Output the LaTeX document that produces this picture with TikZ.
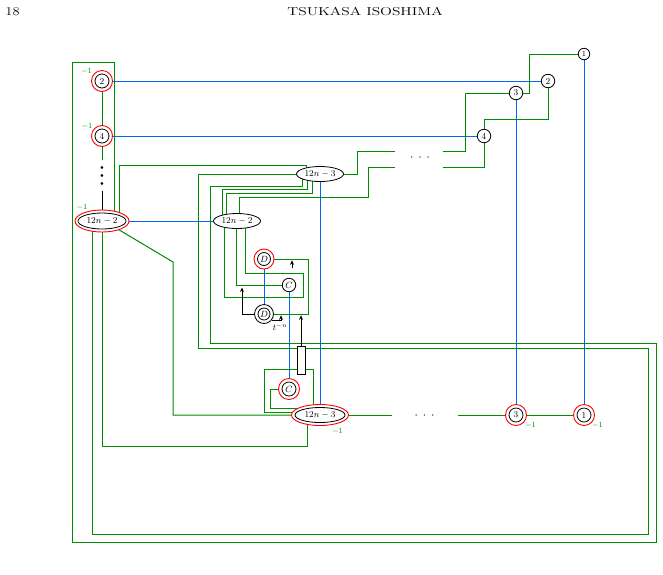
\documentclass[tikz,border=0pt]{standalone}
\usepackage{graphicx}
\usetikzlibrary{backgrounds,calc,arrows.meta,shapes.geometric}
\definecolor{gr}{RGB}{0,140,0}
\definecolor{bl}{RGB}{0,100,255}
\begin{document}
\begin{tikzpicture}[x=1pt,y=-1pt,
  gl/.style={draw=gr,line width=1pt},
  bline/.style={draw=bl,line width=1pt},
  arr/.style={draw=black,line width=0.8pt,-{Stealth[length=4.5pt,width=4pt]}},
  lab/.style={font=\fontsize{9}{9}\selectfont},
  cnode/.style={circle,draw=black,fill=white,line width=0.8pt,inner sep=0pt,minimum size=14pt,lab},
  ring/.style={circle,draw=red,fill=white,line width=0.9pt,inner sep=0pt,minimum size=21pt},
  enode/.style={ellipse,draw=black,fill=white,line width=0.8pt,inner sep=0pt,minimum width=47pt,minimum height=15pt,lab},
  ering/.style={ellipse,draw=red,fill=white,line width=0.9pt,inner sep=0pt},
  mone/.style={text=gr,inner sep=0pt,font=\fontsize{8.5}{8.5}\selectfont},
  dotnode/.style={inner sep=0pt,anchor=base,font=\fontsize{13}{13}\selectfont},
]
\useasboundingbox (0,0) rectangle (663,574);
% header
\node[inner sep=0pt,font=\fontsize{12}{12}\selectfont] (pg) at (12.5,12) {\scalebox{1.2}[1]{18}};
\node[inner sep=0pt,font=\fontsize{11.5}{12}\selectfont] (hd) at (365,12) {\scalebox{1.35}[1]{TSUKASA ISOSHIMA}};
% left column
\node[ring] (L2r) at (102,81) {};
\node[cnode] (L2) at (102,81) {2};
\node[ring] (L4r) at (102,136) {};
\node[cnode] (L4) at (102,136) {4};
\node[inner sep=0pt,align=center,font=\fontsize{6}{8}\selectfont] (vd) at (102,176) {$\bullet$\\$\bullet$\\$\bullet$};
\node[ering,minimum width=54pt,minimum height=22pt] (L12r) at (102,221) {};
\node[enode,minimum width=48pt,minimum height=16pt] (L12) at (102,221) {$12n-2$};
% middle
\node[enode] (M12) at (237,221) {$12n-2$};
\node[enode] (T12) at (320,174) {$12n-3$};
\node[ring,minimum size=20pt] (D1r) at (264,259) {};
\node[cnode,minimum size=13pt] (D1) at (264,259) {$D$};
\node[cnode,minimum size=13.5pt] (C1) at (289,285) {$C$};
\node[cnode,minimum size=19pt] (D2o) at (264,314) {};
\node[cnode,minimum size=12pt] (D2) at (264,314) {$D$};
\node[draw=black,fill=white,line width=0.8pt,inner sep=0pt,minimum width=8pt,minimum height=28pt] (bx) at (301,360) {};
\node[ring] (C2r) at (289,389) {};
\node[cnode] (C2) at (289,389) {$C$};
\node[ering,minimum width=57pt,minimum height=21pt] (B12r) at (320,415) {};
\node[enode,minimum width=50pt] (B12) at (320,415) {$12n-3$};
\node[dotnode] (bd) at (424.5,418.2) {$\cdot$\hspace{5pt}$\cdot$\hspace{5pt}$\cdot$};
\node[ring] (R3r) at (516,415) {};
\node[cnode] (R3) at (516,415) {3};
\node[ring] (R1r) at (584,415) {};
\node[cnode] (R1) at (584,415) {1};
% top right
\node[cnode,minimum size=11.5pt,font=\fontsize{8}{8}\selectfont] (T1) at (584,54) {1};
\node[cnode,minimum size=13.5pt] (T2) at (548,81) {2};
\node[cnode,minimum size=13.5pt] (T3) at (516,93) {3};
\node[cnode,minimum size=13.5pt] (T4) at (484,136) {4};
\node[dotnode] (td) at (420,160.2) {$\cdot$\hspace{5pt}$\cdot$\hspace{5pt}$\cdot$};
% -1 labels
\node[mone] (m1) at (86.5,71) {$-1$};
\node[mone] (m2) at (87,126) {$-1$};
\node[mone] (m3) at (82,207.5) {$-1$};
\node[mone] (m4) at (337.5,431) {$-1$};
\node[mone] (m5) at (530.5,425) {$-1$};
\node[mone] (m6) at (597.5,425) {$-1$};
\node[inner sep=0pt,font=\fontsize{9}{9}\selectfont] (tn) at (280,327) {$t^{-n}$};
% free ends
\coordinate (va) at (102,160);
\coordinate (vb) at (102,191);
\coordinate (dL1) at (395,151);
\coordinate (dL2) at (395,167);
\coordinate (dR1) at (443,151);
\coordinate (dR2) at (443,167);
\coordinate (bdL) at (392,415);
\coordinate (bdR) at (458,415);
\coordinate (a1s) at (292,268);
\coordinate (a1e) at (292,260.3);
% arrows
\draw[arr] (a1s) -- (a1e);
\draw[arr] (D2o.west) -| (242,287.5);
\draw[arr] (D2o.-40) -| (281,315.3);
\draw[arr] (bx.north) -- (301,315.3);
\begin{pgfonlayer}{background}
% blue
\draw[bline] (L2) -- (T2);
\draw[bline] (L4) -- (T4);
\draw[bline] (L12) -- (M12);
\draw[bline] (D1) -- (D2);
\draw[bline] (C1) -- (C2);
\draw[bline] (T12) -- (B12);
\draw[bline] (T3) -- (R3);
\draw[bline] (T1) -- (R1);
% left column
\draw[gl] (L2) -- (L4) -- (va);
\draw[line width=1pt] (vb) -- (L12);
% big outer loops
\draw[gl] ($(L12)+(12,0)$) |- (72,62) -- (72,542) -| (656,343) -| (210,186) -| ($(T12)+(-18,0)$);
\draw[gl] ($(L12)+(-10,0)$) |- (648,534) |- (198,348) |- (T12);
\draw[gl] ($(L12)+(17,0)$) |- ($(T12)+(-14,-9)$) -- ($(T12)+(-14,0)$);
% M12 to T12
\draw[gl] ($(M12)+(-15,0)$) |- ($(T12)+(-13,15)$) -- ($(T12)+(-13,0)$);
\draw[gl] ($(M12)+(-11,0)$) |- ($(T12)+(-8,19)$) -- ($(T12)+(-8,0)$);
\draw[gl] ($(M12)+(2,0)$) |- (368,197) |- (dL2);
\draw[gl] (T12) -- ($(T12)+(37,0)$) |- (dL1);
% top right
\draw[gl] (dR1) -- (465,151) |- (T3);
\draw[gl] (dR2) -| (T4);
\draw[gl] (T4) -- ($(T4)+(0,-17)$) -| (T2);
\draw[gl] (T3) -- ($(T3)+(13,0)$) |- (T1);
% L12 to B12
\draw[gl] ($(L12)+(14,7)$) -- (173,262) |- (B12);
\draw[gl] (L12) |- ($(B12)+(-13,31)$) -- ($(B12)+(-13,0)$);
% B12 loop round C2, and C2 to B12
\draw[gl] ($(B12)+(-12,-3)$) -| ($(B12)+(-56,-46)$) -| ($(B12)+(-7,0)$);
\draw[gl] (C2) -- ($(C2)+(-19,0)$) |- ($(B12)+(-10,-7)$);
% M12 to C1 and loop
\draw[gl] ($(M12)+(-1,0)$) |- (C1);
\draw[gl] ($(M12)+(8,0)$) |- (303,273) |- ($(M12)+(-13,76)$) -- ($(M12)+(-13,0)$);
% D1 loop
\draw[gl] (D1) -- ($(D1)+(44,0)$) |- (D2);
% bottom row
\draw[gl] (B12) -- (bdL);
\draw[gl] (bdR) -- (R3);
\draw[gl] (R3) -- (R1);
\end{pgfonlayer}
\end{tikzpicture}
\end{document}
